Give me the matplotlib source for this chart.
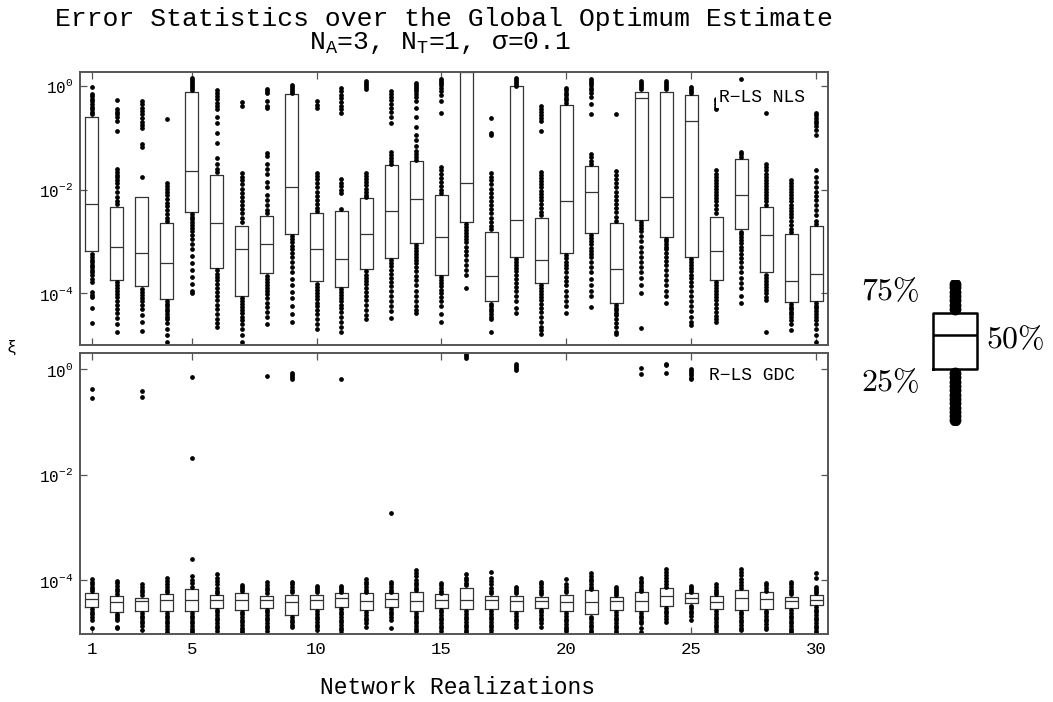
import numpy as np
import matplotlib
matplotlib.use("Agg")
import matplotlib.pyplot as plt
from matplotlib.ticker import NullLocator

plt.rcParams['font.family'] = ['Liberation Mono', 'DejaVu Sans']
plt.rcParams['mathtext.fontset'] = 'custom'
plt.rcParams['mathtext.rm'] = 'Liberation Mono'
plt.rcParams['mathtext.it'] = 'Liberation Mono'
plt.rcParams['mathtext.bf'] = 'Liberation Mono'

# ---------------- data (log10 of error xi) ----------------
realizations = list(range(1, 31))
xtick_vals = [1, 5, 10, 15, 20, 25, 30]
ytick_vals = [0, -2, -4]
ytick_labels = [r'$10^{0}$', r'$10^{-2}$', r'$10^{-4}$']

# R-LS NLS (upper panel)
nls_q1 = [-3.19, -3.74, -3.87, -4.12, -2.43, -3.52, -4.06, -3.61, -2.85, -3.77,
          -3.88, -3.54, -3.32, -3.03, -3.65, -2.63, -4.16, -3.30, -3.81, -3.23,
          -2.84, -4.19, -2.58, -2.91, -3.30, -3.74, -2.77, -3.60, -4.17, -4.15]
nls_med = [-2.27, -3.11, -3.23, -3.41, -1.65, -2.64, -3.15, -3.05, -1.96, -3.14,
           -3.34, -2.86, -2.41, -2.18, -2.92, -1.88, -3.66, -2.59, -3.36, -2.23,
           -2.05, -3.54, -0.24, -2.15, -0.68, -3.19, -2.11, -2.88, -3.77, -3.63]
nls_q3 = [-0.60, -2.34, -2.14, -2.65, -0.11, -1.72, -2.70, -2.51, -0.16, -2.46,
          -2.41, -2.17, -1.53, -1.44, -2.10, 0.26, -2.82, -0.01, -2.55, -0.37,
          -1.54, -2.65, -0.11, -0.11, -0.18, -2.52, -1.41, -2.34, -2.85, -2.70]
nls_hi = [
    [-0.02, -0.15, -0.2, -0.25, -0.3, -0.35, -0.4, -0.45, -0.5, -0.55],
    [-0.27, -0.45, -0.5, -0.55, -0.6, -0.68, -0.87, -1.61, -1.66, -1.71, -1.76, -1.82, -1.88, -1.95, -2.05, -2.15, -2.22, -2.28],
    [-0.29, -0.35, -0.42, -0.48, -0.55, -0.62, -0.7, -0.76, -0.81, -1.13, -1.18, -1.75],
    [-0.63, -1.87, -1.93, -1.99, -2.05, -2.11, -2.18, -2.25, -2.32, -2.4, -2.48, -2.55, -2.6],
    [0.16, 0.12, 0.08, 0.04, 0.0, -0.04, -0.08],
    [-0.08, -0.14, -0.2, -0.26, -0.32, -0.38, -0.44, -0.6, -0.72, -0.9, -1.1, -1.4, -1.5, -1.6, -1.66],
    [-0.31, -0.38, -1.68, -1.75, -1.82, -1.9, -1.98, -2.06, -2.14, -2.22, -2.3, -2.38, -2.46, -2.55, -2.62],
    [-0.06, -0.1, -0.14, -0.3, -0.38, -0.42, -1.29, -1.36, -1.5, -1.6, -1.7, -1.85, -1.95, -2.1, -2.2, -2.3, -2.4, -2.46],
    [0.02, -0.02, -0.06, -0.1, -0.13],
    [-0.3, -0.36, -0.42, -1.68, -1.74, -1.8, -1.88, -1.96, -2.04, -2.12, -2.2, -2.28, -2.36, -2.42],
    [-0.03, -0.1, -0.17, -0.24, -0.31, -0.38, -0.45, -0.52, -1.8, -1.87, -1.94, -2.0, -2.06, -2.38],
    [0.1, 0.06, 0.02, -0.02, -0.06, -1.68, -1.74, -1.8, -1.86, -1.92, -1.98, -2.04, -2.1, -2.14],
    [-0.1, -0.16, -0.22, -0.28, -0.35, -0.42, -0.5, -0.6, -0.71, -1.27, -1.33, -1.39, -1.45, -1.5],
    [0.06, 0.02, -0.02, -0.06, -0.1, -0.15, -0.22, -0.3, -0.42, -0.6, -0.8, -0.95, -1.05, -1.15, -1.25, -1.32, -1.38, -1.42],
    [0.13, 0.09, 0.05, 0.01, -0.03, -0.1, -0.17, -0.3, -0.52, -1.57, -1.63, -1.7, -1.77, -1.85, -1.93, -2.0, -2.06],
    [],
    [-0.61, -0.9, -0.94, -1.68, -1.75, -1.82, -1.9, -1.98, -2.06, -2.14, -2.22, -2.3, -2.38, -2.46, -2.55, -2.62, -2.7, -2.77],
    [0.16, 0.12, 0.08, 0.04, 0.0],
    [-0.39, -0.44, -0.5, -0.56, -0.62, -0.68, -0.87, -1.66, -1.72, -1.78, -1.84, -1.9, -1.96, -2.02, -2.08, -2.14, -2.2, -2.28, -2.36, -2.44, -2.5],
    [-0.03, -0.08, -0.13, -0.18, -0.23, -0.28, -0.33],
    [0.13, 0.09, 0.05, 0.01, -0.03, -0.08, -0.14, -0.22, -0.35, -0.55, -1.32, -1.38, -1.44, -1.5],
    [-0.54, -1.65, -1.72, -1.8, -1.88, -1.96, -2.04, -2.12, -2.2, -2.28, -2.36, -2.44, -2.52, -2.6],
    [0.10, 0.06, 0.02, -0.02, -0.06],
    [0.10, 0.06, 0.02, -0.02, -0.06],
    [-0.02, -0.06, -0.1, -0.14],
    [-0.25, -0.3, -0.35, -0.4, -0.45, -1.63, -1.69, -1.75, -1.81, -1.87, -1.93, -1.99, -2.05, -2.11, -2.17, -2.23, -2.3, -2.38, -2.46],
    [0.13, -1.27, -1.32, -1.37],
    [-0.52, -1.51, -1.57, -1.63, -1.69, -1.75, -1.81, -1.87, -1.93, -1.99, -2.05, -2.11, -2.17, -2.23, -2.29],
    [-1.81, -1.87, -1.93, -1.99, -2.05, -2.11, -2.17, -2.23, -2.29, -2.35, -2.41, -2.47, -2.53, -2.6, -2.68, -2.76, -2.82],
    [-0.52, -0.57, -0.62, -0.67, -0.72, -0.78, -0.85, -0.94, -1.63, -1.75, -1.85, -1.95, -2.05, -2.12, -2.2, -2.3, -2.4, -2.5, -2.6, -2.66],
]
nls_lo = [
    [-3.25, -3.3, -3.35, -3.4, -3.45, -3.5, -3.55, -3.6, -3.65, -3.72, -3.78, -3.98, -4.03, -4.08, -4.29, -4.58],
    [-3.78, -3.84, -3.9, -3.96, -4.02, -4.08, -4.15, -4.22, -4.3, -4.38, -4.48, -4.6, -4.74],
    [-3.92, -3.97, -4.03, -4.09, -4.15, -4.22, -4.3, -4.42, -4.55, -4.73],
    [-4.16, -4.2, -4.25, -4.3, -4.35, -4.4, -4.45, -4.5, -4.58, -4.7, -4.8, -4.95],
    [-2.47, -2.52, -2.57, -2.62, -2.68, -2.74, -2.8, -2.88, -2.95, -3.05, -3.15, -3.28, -3.42, -3.55, -3.68, -3.82, -3.95, -4.0],
    [-3.56, -3.62, -3.68, -3.75, -3.82, -3.9, -3.98, -4.06, -4.14, -4.22, -4.3, -4.4, -4.5, -4.58, -4.65],
    [-4.1, -4.15, -4.2, -4.26, -4.32, -4.38, -4.45, -4.52, -4.6, -4.7, -4.8, -4.94],
    [-3.66, -3.72, -3.78, -3.84, -3.9, -3.96, -4.02, -4.1, -4.18, -4.26, -4.36, -4.45, -4.6],
    [-2.9, -2.96, -3.02, -3.08, -3.15, -3.22, -3.3, -3.4, -3.5, -3.6, -3.72, -3.85, -3.98, -4.1, -4.25, -4.4, -4.55],
    [-3.82, -3.88, -3.94, -4.0, -4.06, -4.12, -4.18, -4.25, -4.32, -4.4, -4.5, -4.6, -4.69],
    [-3.92, -3.98, -4.04, -4.1, -4.16, -4.22, -4.28, -4.36, -4.45, -4.55, -4.65, -4.74],
    [-3.58, -3.64, -3.7, -3.76, -3.82, -3.9, -3.98, -4.06, -4.14, -4.22, -4.32, -4.42, -4.5],
    [-3.36, -3.42, -3.48, -3.55, -3.62, -3.7, -3.78, -3.86, -3.95, -4.05, -4.15, -4.25, -4.35, -4.48],
    [-3.07, -3.12, -3.18, -3.24, -3.3, -3.36, -3.42, -3.5, -3.58, -3.66, -3.75, -3.85, -3.95, -4.05, -4.15, -4.25, -4.32, -4.39],
    [-3.69, -3.75, -3.81, -3.87, -3.93, -4.0, -4.07, -4.15, -4.25, -4.4, -4.55],
    [-2.67, -2.72, -2.78, -2.84, -2.9, -2.96, -3.02, -3.1, -3.18, -3.26, -3.35, -3.45, -3.55, -3.65, -3.9],
    [-4.2, -4.25, -4.3, -4.35, -4.4, -4.45, -4.5, -4.74],
    [-3.34, -3.4, -3.46, -3.52, -3.58, -3.65, -3.72, -3.8, -3.88, -3.96, -4.05, -4.15, -4.28, -4.39],
    [-3.85, -3.9, -3.96, -4.02, -4.08, -4.14, -4.2, -4.28, -4.36, -4.45, -4.55, -4.65, -4.72, -4.79],
    [-3.27, -3.33, -3.39, -3.45, -3.52, -3.6, -3.68, -3.76, -3.85, -3.95, -4.05, -4.15, -4.25, -4.39],
    [-2.88, -2.94, -3.0, -3.06, -3.12, -3.18, -3.24, -3.3, -3.4, -3.5, -3.6, -3.72, -3.85, -3.95, -4.05, -4.26],
    [-4.23, -4.28, -4.33, -4.38, -4.43, -4.5, -4.58, -4.66, -4.74, -4.79],
    [-2.62, -2.68, -2.74, -2.8, -2.9, -3.0, -3.1, -3.2, -3.3, -3.4, -3.5, -3.6, -3.7, -3.85, -4.0, -4.68],
    [-2.95, -3.0, -3.05, -3.1, -3.15, -3.22, -3.3, -3.38, -3.46, -3.55, -3.65, -3.75, -3.85, -3.95, -4.05, -4.19],
    [-3.34, -3.4, -3.46, -3.52, -3.58, -3.64, -3.7, -3.78, -3.86, -3.95, -4.05, -4.15, -4.25, -4.35, -4.45, -4.55, -4.61],
    [-3.78, -3.84, -3.9, -3.96, -4.02, -4.08, -4.14, -4.2, -4.28, -4.36, -4.44, -4.5, -4.56],
    [-2.81, -2.86, -2.92, -2.98, -3.04, -3.1, -3.17, -3.24, -3.32, -3.4, -3.5, -3.6, -3.7, -3.8, -3.9, -4.05, -4.19],
    [-3.64, -3.7, -3.76, -3.82, -3.88, -3.94, -4.0, -4.07, -4.14, -4.75],
    [-4.21, -4.26, -4.31, -4.36, -4.41, -4.46, -4.52, -4.6, -4.71],
    [-4.19, -4.24, -4.29, -4.34, -4.4, -4.46, -4.52, -4.6, -4.7, -4.8, -4.94],
]

# R-LS GDC (lower panel)
gdc_q1 = [-4.51, -4.60, -4.58, -4.58, -4.58, -4.52, -4.56, -4.52, -4.66, -4.55,
          -4.51, -4.57, -4.51, -4.58, -4.52, -4.55, -4.55, -4.59, -4.52, -4.59,
          -4.65, -4.57, -4.58, -4.49, -4.44, -4.55, -4.56, -4.54, -4.53, -4.47]
gdc_med = [-4.36, -4.41, -4.40, -4.37, -4.37, -4.38, -4.37, -4.38, -4.41, -4.38,
           -4.34, -4.40, -4.36, -4.39, -4.37, -4.37, -4.37, -4.39, -4.40, -4.41,
           -4.42, -4.40, -4.40, -4.30, -4.34, -4.41, -4.34, -4.35, -4.40, -4.38]
gdc_q3 = [-4.25, -4.30, -4.33, -4.27, -4.17, -4.28, -4.25, -4.30, -4.28, -4.28,
          -4.25, -4.25, -4.25, -4.22, -4.27, -4.15, -4.30, -4.30, -4.31, -4.28,
          -4.19, -4.31, -4.22, -4.15, -4.25, -4.30, -4.18, -4.23, -4.31, -4.28]
gdc_hi = [
    [-3.98, -4.03, -4.08, -4.12, -4.16, -4.2, -0.37, -0.55],
    [-4.01, -4.06, -4.11, -4.16, -4.21, -4.26],
    [-4.08, -4.13, -4.18, -4.23, -4.28, -0.41, -0.53],
    [-3.95, -4.02, -4.08, -4.13, -4.18, -4.23],
    [-3.92, -4.0, -4.06, -4.12, -3.60, -1.68, -0.14],
    [-3.89, -3.96, -4.02, -4.08, -4.14, -4.2, -4.25],
    [-4.09, -4.13, -4.17, -4.21],
    [-4.04, -4.09, -4.14, -4.19, -4.24, -0.13],
    [-4.03, -4.08, -4.13, -4.18, -4.23, -0.08, -0.11, -0.14, -0.18],
    [-4.11, -4.15, -4.19, -4.23],
    [-4.11, -4.15, -4.19, -4.22, -0.19],
    [-3.98, -4.03, -4.08, -4.13, -4.18, -4.22],
    [-4.03, -4.08, -4.13, -4.18, -4.22, -2.73],
    [-3.80, -3.87, -3.93, -3.99, -4.05, -4.1, -4.15, -4.19],
    [-4.06, -4.1, -4.15, -4.2, -4.24],
    [-3.89, -3.95, -4.0, -4.05, -4.1, 0.28, 0.25, 0.22],
    [-3.84, -3.95, -4.02, -4.08, -4.14, -4.2, -4.25],
    [-4.13, -4.17, -4.21, -4.25, 0.10, 0.06, 0.02, -0.02],
    [-4.03, -4.08, -4.13, -4.18, -4.23, -4.27],
    [-3.98, -4.08, -4.13, -4.18, -4.23],
    [-3.87, -3.92, -3.97, -4.02, -4.07, -4.12, -4.16],
    [-4.12, -4.16, -4.2, -4.24, -4.28],
    [-3.96, -4.01, -4.06, -4.11, -4.16, -4.2, 0.02, -0.09],
    [-3.78, -3.84, -3.9, -3.96, -4.02, -4.07, -4.12, 0.10, 0.07, -0.08],
    [-4.11, -4.15, -4.19, -4.22, 0.0, -0.04, -0.08, -0.12, -0.16, -0.19],
    [-4.08, -4.13, -4.18, -4.23, -4.27],
    [-3.79, -3.85, -3.91, -3.97, -4.03, -4.09, -4.14],
    [-4.06, -4.1, -4.15, -4.2],
    [-4.03, -4.08, -4.13, -4.18, -4.23, -4.27],
    [-3.87, -3.95, -4.13, -4.17, -4.21, -4.25],
]
gdc_lo = [
    [-4.55, -4.6, -4.65, -4.7, -4.75, -4.9],
    [-4.64, -4.68, -4.72, -4.76, -4.88, -4.9],
    [-4.62, -4.67, -4.72, -4.77, -4.82, -4.87, -4.94],
    [-4.62, -4.67, -4.72, -4.77, -4.82, -4.87, -4.92, -4.99],
    [-4.62, -4.67, -4.72, -4.77, -4.82, -4.87, -4.92, -4.97, -5.0],
    [-4.56, -4.61, -4.66, -4.71, -4.76, -4.81, -4.86, -4.91, -4.96],
    [-4.6, -4.65, -4.7, -4.75, -4.8, -4.85, -4.9, -4.95, -4.99],
    [-4.56, -4.61, -4.66, -4.71, -4.76, -4.81, -4.86, -4.91, -4.97],
    [-4.7, -4.75, -4.8, -4.85, -4.89],
    [-4.59, -4.64, -4.69, -4.74, -4.79, -4.84, -4.89, -4.95],
    [-4.55, -4.6, -4.65, -4.7, -4.75, -4.8, -4.85, -4.9, -4.95, -5.0],
    [-4.61, -4.66, -4.71, -4.76, -4.82, -4.88],
    [-4.55, -4.6, -4.65, -4.7, -4.75, -4.9],
    [-4.62, -4.67, -4.72, -4.77, -4.82, -4.87, -4.92, -4.97],
    [-4.56, -4.61, -4.66, -4.71, -4.76, -4.81, -4.86, -4.91, -4.97],
    [-4.59, -4.64, -4.69, -4.74, -4.79, -4.84, -4.89, -4.94, -4.99],
    [-4.59, -4.64, -4.69, -4.74, -4.79, -4.84, -4.89, -4.94, -5.0],
    [-4.63, -4.68, -4.73, -4.78, -4.83, -4.88],
    [-4.56, -4.61, -4.66, -4.71, -4.76, -4.81, -4.88],
    [-4.63, -4.68, -4.73, -4.78, -4.83, -4.88, -4.93, -4.97],
    [-4.69, -4.74, -4.79, -4.84, -4.89, -4.94, -4.98],
    [-4.61, -4.66, -4.71, -4.76, -4.81, -4.86, -4.91, -4.96, -5.0],
    [-4.62, -4.67, -4.72, -4.77, -4.82, -4.9, -4.98],
    [-4.53, -4.58, -4.63, -4.68, -4.73, -4.8],
    [-4.48, -4.53, -4.58, -4.63, -4.68, -4.75],
    [-4.59, -4.64, -4.69, -4.74, -4.79, -4.84, -4.89, -4.94, -5.0],
    [-4.6, -4.65, -4.7, -4.75, -4.8, -4.85, -4.9, -4.95],
    [-4.58, -4.63, -4.68, -4.73, -4.78, -4.83, -4.88, -4.93],
    [-4.57, -4.62, -4.67, -4.72, -4.77, -4.82, -4.87, -4.92, -4.97, -5.0],
    [-4.51, -4.56, -4.61, -4.66, -4.71, -4.76, -4.81, -4.86, -4.91, -4.96, -5.0],
]

# schematic legend box (arbitrary units)
legend_q = [0.386, 0.621, 0.772]      # 25%, 50%, 75%
legend_hi = [0.80, 0.83, 0.86, 0.89, 0.92, 0.95, 0.97]
legend_lo = [0.36, 0.33, 0.30, 0.27, 0.24, 0.21, 0.18, 0.15, 0.12, 0.09, 0.06, 0.035]

# ---------------- figure ----------------
W, H = 1053, 702
fig = plt.figure(figsize=(W / 100, H / 100), dpi=100)

ax1 = fig.add_axes([80 / W, 1 - 345 / H, 748 / W, (345 - 71.7) / H])
ax2 = fig.add_axes([80 / W, 1 - 634 / H, 748 / W, (634 - 353.3) / H])

box_col = '#333333'


def draw_panel(ax, q1, med, q3, hi, lo, ylim):
    stats = []
    for a, m, b, h, l in zip(q1, med, q3, hi, lo):
        stats.append(dict(med=10 ** m, q1=10 ** a, q3=10 ** b,
                          whislo=10 ** a, whishi=10 ** b,
                          fliers=10 ** np.array(h + l, dtype=float)))
    ax.bxp(stats, positions=realizations, widths=0.52, showcaps=False,
           manage_ticks=False,
           boxprops=dict(color=box_col, linewidth=0.9),
           medianprops=dict(color=box_col, linewidth=0.9),
           whiskerprops=dict(linewidth=0),
           flierprops=dict(marker='o', markerfacecolor='black',
                           markeredgecolor='black', markersize=2.4,
                           linestyle='none'))
    ax.set_yscale('log')
    ax.set_ylim(10 ** ylim[0], 10 ** ylim[1])
    ax.set_xlim(0.53, 30.48)
    ax.set_yticks([10.0 ** v for v in ytick_vals])
    ax.set_yticklabels(ytick_labels)
    ax.yaxis.set_minor_locator(NullLocator())
    ax.set_xticks(xtick_vals)
    ax.tick_params(direction='in', top=True, right=True, length=5,
                   width=0.9, color='#555555')
    ax.tick_params(axis='y', labelsize=11.5, pad=5)
    ax.tick_params(axis='x', labelsize=12.5, pad=6)
    for s in ax.spines.values():
        s.set_color('#555555')
        s.set_linewidth(1.4)


draw_panel(ax1, nls_q1, nls_med, nls_q3, nls_hi, nls_lo, (-5.0, 0.275))
draw_panel(ax2, gdc_q1, gdc_med, gdc_q3, gdc_hi, gdc_lo, (-5.02, 0.30))
ax1.tick_params(axis='x', labelbottom=False)

ax1.text(26.1, 10 ** -0.22, 'R\u2212LS NLS', fontsize=13, ha='left', va='center',
         zorder=10, bbox=dict(boxstyle='square,pad=0.12', fc='white', ec='none'))
ax2.text(25.73, 10 ** -0.13, 'R\u2212LS GDC', fontsize=13, ha='left', va='center',
         zorder=10, bbox=dict(boxstyle='square,pad=0.12', fc='white', ec='none'))

fig.text(444 / W, 1 - 19 / H, 'Error Statistics over the Global Optimum Estimate',
         fontsize=19, ha='center', va='center')
fig.text(440 / W, 1 - 43 / H, r'N$_{\mathrm{A}}$=3, N$_{\mathrm{T}}$=1, σ=0.1',
         fontsize=19, ha='center', va='center')
fig.text(457 / W, 1 - 688 / H, 'Network Realizations', fontsize=16.5,
         ha='center', va='center')
fig.text(12 / W, 1 - 347 / H, 'ξ', fontsize=12, ha='center', va='center')

# schematic legend
axl = fig.add_axes([911 / W, 1 - 425 / H, 88 / W, 145 / H])
axl.set_xlim(0, 1)
axl.set_ylim(0, 1)
axl.axis('off')
axl.bxp([dict(med=legend_q[1], q1=legend_q[0], q3=legend_q[2],
              whislo=legend_q[0], whishi=legend_q[2],
              fliers=np.array(legend_hi + legend_lo))],
        positions=[0.5], widths=0.5, showcaps=False, manage_ticks=False,
        boxprops=dict(color='black', linewidth=1.8),
        medianprops=dict(color='black', linewidth=1.8),
        whiskerprops=dict(linewidth=0),
        flierprops=dict(marker='o', markerfacecolor='black',
                        markeredgecolor='black', markersize=7.5,
                        linestyle='none'))
fig.text(890 / W, 1 - 292 / H, r'$75\%$', math_fontfamily='cm', fontsize=23,
         ha='center', va='center')
fig.text(1015 / W, 1 - 340 / H, r'$50\%$', math_fontfamily='cm', fontsize=23,
         ha='center', va='center')
fig.text(890 / W, 1 - 383 / H, r'$25\%$', math_fontfamily='cm', fontsize=23,
         ha='center', va='center')

fig.savefig('out.png', dpi=100)
